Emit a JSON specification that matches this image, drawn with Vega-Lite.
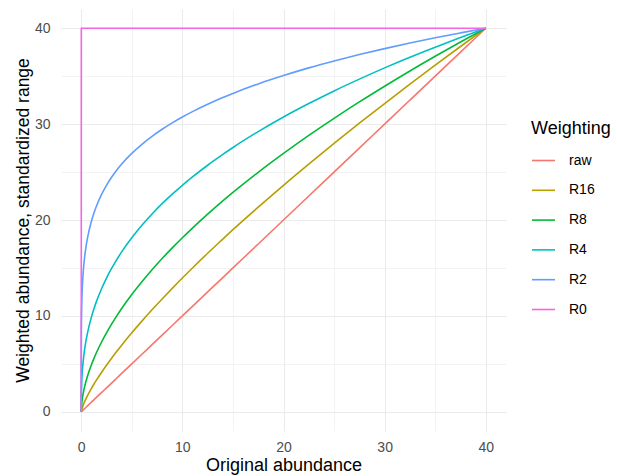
{
  "$schema": "https://vega.github.io/schema/vega-lite/v6.json",
  "autosize": {"type": "none"},
  "padding": {"left": 61, "top": 9, "right": 111, "bottom": 45},
  "width": 445,
  "height": 422,
  "background": "white",
  "config": {
    "view": {"stroke": null},
    "font": "Liberation Sans",
    "axis": {
      "domain": false,
      "ticks": false,
      "tickSize": 0,
      "labelColor": "#4D4D4D",
      "labelFontSize": 14,
      "labelFont": "Liberation Sans",
      "titleFont": "Liberation Sans",
      "titleFontWeight": "normal",
      "titleColor": "#000000",
      "gridColor": "#EBEBEB"
    },
    "legend": {
      "titleFont": "Liberation Sans",
      "titleFontSize": 18,
      "titleFontWeight": "normal",
      "titleColor": "#000000",
      "labelFont": "Liberation Sans",
      "labelFontSize": 14,
      "labelColor": "#000000"
    }
  },
  "data": {
    "values": [
      {"x": 0, "raw": 0, "R16": 0, "R8": 0, "R4": 0, "R2": 0, "R0": 0},
      {"x": 0.01, "raw": 0.01, "R16": 0.073, "R8": 0.354, "R4": 1.71, "R2": 8.27, "R0": 40},
      {"x": 0.02, "raw": 0.02, "R16": 0.124, "R8": 0.525, "R4": 2.23, "R2": 9.44, "R0": 40},
      {"x": 0.05, "raw": 0.05, "R16": 0.249, "R8": 0.886, "R4": 3.15, "R2": 11.23, "R0": 40},
      {"x": 0.1, "raw": 0.1, "R16": 0.421, "R8": 1.315, "R4": 4.1, "R2": 12.81, "R0": 40},
      {"x": 0.2, "raw": 0.2, "R16": 0.713, "R8": 1.952, "R4": 5.34, "R2": 14.62, "R0": 40},
      {"x": 0.35, "raw": 0.35, "R16": 1.092, "R8": 2.686, "R4": 6.61, "R2": 16.26, "R0": 40},
      {"x": 0.5, "raw": 0.5, "R16": 1.431, "R8": 3.291, "R4": 7.57, "R2": 17.4, "R0": 40},
      {"x": 0.75, "raw": 0.75, "R16": 1.948, "R8": 4.147, "R4": 8.83, "R2": 18.79, "R0": 40},
      {"x": 1, "raw": 1, "R16": 2.424, "R8": 4.886, "R4": 9.85, "R2": 19.85, "R0": 40},
      {"x": 1.25, "raw": 1.25, "R16": 2.872, "R8": 5.548, "R4": 10.72, "R2": 20.71, "R0": 40},
      {"x": 1.5, "raw": 1.5, "R16": 3.299, "R8": 6.156, "R4": 11.49, "R2": 21.44, "R0": 40},
      {"x": 2, "raw": 2, "R16": 4.105, "R8": 7.253, "R4": 12.81, "R2": 22.64, "R0": 40},
      {"x": 2.5, "raw": 2.5, "R16": 4.864, "R8": 8.236, "R4": 13.95, "R2": 23.62, "R0": 40},
      {"x": 3, "raw": 3, "R16": 5.586, "R8": 9.138, "R4": 14.95, "R2": 24.45, "R0": 40},
      {"x": 3.5, "raw": 3.5, "R16": 6.28, "R8": 9.977, "R4": 15.85, "R2": 25.18, "R0": 40},
      {"x": 4, "raw": 4, "R16": 6.952, "R8": 10.77, "R4": 16.68, "R2": 25.83, "R0": 40},
      {"x": 5, "raw": 5, "R16": 8.236, "R8": 12.23, "R4": 18.15, "R2": 26.94, "R0": 40},
      {"x": 6, "raw": 6, "R16": 9.459, "R8": 13.56, "R4": 19.45, "R2": 27.89, "R0": 40},
      {"x": 7, "raw": 7, "R16": 10.64, "R8": 14.81, "R4": 20.63, "R2": 28.72, "R0": 40},
      {"x": 8, "raw": 8, "R16": 11.77, "R8": 15.98, "R4": 21.7, "R2": 29.46, "R0": 40},
      {"x": 9, "raw": 9, "R16": 12.87, "R8": 17.09, "R4": 22.69, "R2": 30.13, "R0": 40},
      {"x": 10, "raw": 10, "R16": 13.95, "R8": 18.15, "R4": 23.62, "R2": 30.74, "R0": 40},
      {"x": 11, "raw": 11, "R16": 15.0, "R8": 19.16, "R4": 24.49, "R2": 31.3, "R0": 40},
      {"x": 12.5, "raw": 12.5, "R16": 16.53, "R8": 20.61, "R4": 25.71, "R2": 32.07, "R0": 40},
      {"x": 14, "raw": 14, "R16": 18.01, "R8": 21.99, "R4": 26.84, "R2": 32.77, "R0": 40},
      {"x": 15, "raw": 15, "R16": 18.99, "R8": 22.87, "R4": 27.56, "R2": 33.2, "R0": 40},
      {"x": 17.5, "raw": 17.5, "R16": 21.34, "R8": 24.97, "R4": 29.22, "R2": 34.19, "R0": 40},
      {"x": 20, "raw": 20, "R16": 23.62, "R8": 26.94, "R4": 30.74, "R2": 35.06, "R0": 40},
      {"x": 22.5, "raw": 22.5, "R16": 25.83, "R8": 28.82, "R4": 32.14, "R2": 35.86, "R0": 40},
      {"x": 25, "raw": 25, "R16": 27.99, "R8": 30.6, "R4": 33.46, "R2": 36.58, "R0": 40},
      {"x": 27.5, "raw": 27.5, "R16": 30.09, "R8": 32.31, "R4": 34.69, "R2": 37.25, "R0": 40},
      {"x": 30, "raw": 30, "R16": 32.14, "R8": 33.95, "R4": 35.86, "R2": 37.87, "R0": 40},
      {"x": 32.5, "raw": 32.5, "R16": 34.16, "R8": 35.54, "R4": 36.97, "R2": 38.45, "R0": 40},
      {"x": 35, "raw": 35, "R16": 36.14, "R8": 37.07, "R4": 38.02, "R2": 39.0, "R0": 40},
      {"x": 37.5, "raw": 37.5, "R16": 38.09, "R8": 38.56, "R4": 39.03, "R2": 39.51, "R0": 40},
      {"x": 40, "raw": 40, "R16": 40, "R8": 40, "R4": 40, "R2": 40, "R0": 40}
    ]
  },
  "transform": [
    {"fold": ["raw", "R16", "R8", "R4", "R2", "R0"], "as": ["Weighting", "y"]}
  ],
  "mark": {"type": "line", "strokeWidth": 1.6, "interpolate": "monotone"},
  "encoding": {
    "x": {
      "field": "x",
      "type": "quantitative",
      "title": "Original abundance",
      "scale": {"domain": [-2, 42], "nice": false, "zero": false},
      "axis": {
        "values": [0, 5, 10, 15, 20, 25, 30, 35, 40],
        "labelExpr": "datum.value % 10 === 0 ? datum.label : ''",
        "labelPadding": 9,
        "titleFontSize": 18,
        "titlePadding": 2,
        "gridWidth": {"condition": {"test": "datum.value % 10 === 0", "value": 1.1}, "value": 0.6}
      }
    },
    "y": {
      "field": "y",
      "type": "quantitative",
      "title": "Weighted abundance, standardized range",
      "scale": {"domain": [-2, 42], "nice": false, "zero": false},
      "axis": {
        "values": [0, 5, 10, 15, 20, 25, 30, 35, 40],
        "labelExpr": "datum.value % 10 === 0 ? datum.label : ''",
        "labelPadding": 11,
        "titleFontSize": 17.5,
        "titlePadding": 2,
        "gridWidth": {"condition": {"test": "datum.value % 10 === 0", "value": 1.1}, "value": 0.6}
      }
    },
    "color": {
      "field": "Weighting",
      "type": "nominal",
      "sort": ["raw", "R16", "R8", "R4", "R2", "R0"],
      "scale": {
        "domain": ["raw", "R16", "R8", "R4", "R2", "R0"],
        "range": ["#F8766D", "#B79F00", "#00BA38", "#00BFC4", "#619CFF", "#F564E3"]
      },
      "legend": {
        "orient": "none",
        "legendX": 470,
        "legendY": 111,
        "padding": 0,
        "symbolType": "stroke",
        "symbolSize": 529,
        "symbolStrokeWidth": 1.6,
        "labelOffset": 13,
        "rowPadding": 9.8,
        "titlePadding": 10
      }
    }
  }
}
